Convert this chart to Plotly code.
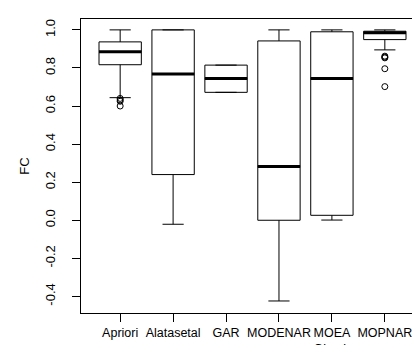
import plotly.graph_objects as go

categories = ["Apriori", "Alatasetal", "GAR", "MODENAR", "MOEA<br>Ghosh", "MOPNAR"]
positions = [1, 2, 3, 4, 5, 6]
q1 = [0.817, 0.240, 0.672, 0.000, 0.026, 0.949]
median = [0.885, 0.768, 0.745, 0.283, 0.745, 0.985]
q3 = [0.937, 1.000, 0.815, 0.942, 0.990, 0.993]
lower_whisker = [0.644, -0.021, 0.672, -0.424, 0.001, 0.895]
upper_whisker = [1.000, 1.000, 0.815, 1.000, 1.000, 1.000]
outlier_x = [1, 1, 1, 1, 6, 6, 6, 6, 6]
outlier_y = [0.640, 0.632, 0.625, 0.600, 0.862, 0.857, 0.853, 0.796, 0.702]
y_ticks = [-0.4, -0.2, 0.0, 0.2, 0.4, 0.6, 0.8, 1.0]
box_width = 0.8

FONT = "Liberation Sans, Arial, Helvetica, sans-serif"

fig = go.Figure()
fig.add_trace(go.Box(
    x=positions, q1=q1, median=median, q3=q3,
    lowerfence=lower_whisker, upperfence=upper_whisker,
    width=box_width, whiskerwidth=0.5, boxpoints=False,
    fillcolor="white", line=dict(color="black", width=1),
    hoverinfo="skip", showlegend=False,
))

# thick median lines (R style)
mx, my = [], []
for p, m in zip(positions, median):
    mx += [p - box_width / 2, p + box_width / 2, None]
    my += [m, m, None]
fig.add_trace(go.Scatter(x=mx, y=my, mode="lines",
                         line=dict(color="black", width=3),
                         showlegend=False, hoverinfo="skip"))

fig.add_trace(go.Scatter(x=outlier_x, y=outlier_y, mode="markers",
                         marker=dict(symbol="circle-open", size=6,
                                     color="black", line=dict(width=1)),
                         showlegend=False, hoverinfo="skip"))

fig.update_layout(
    width=420, height=345,
    margin=dict(l=73, r=4, t=11, b=40),
    paper_bgcolor="white", plot_bgcolor="white",
    font=dict(family=FONT, size=13, color="black"),
    xaxis=dict(range=[0.26, 6.74], tickmode="array", tickvals=positions,
               ticktext=categories, showgrid=False, zeroline=False,
               showline=True, mirror=True, linecolor="black", linewidth=1,
               ticks="outside", ticklen=8, tickcolor="black",
               tickangle=0, automargin=False,
               tickfont=dict(size=12.5)),
    yaxis=dict(range=[-0.4872, 1.0572], tickmode="array", tickvals=y_ticks,
               ticktext=[f"{v:.1f}" for v in y_ticks], tickangle=-90,
               showgrid=False, zeroline=False, automargin=False,
               showline=True, mirror=True, linecolor="black", linewidth=1,
               ticks="outside", ticklen=8, tickcolor="black",
               ticklabelstandoff=12,
               tickfont=dict(size=13),
               title=dict(text="FC", font=dict(size=13), standoff=10)),
)

fig.write_html("out.html")
